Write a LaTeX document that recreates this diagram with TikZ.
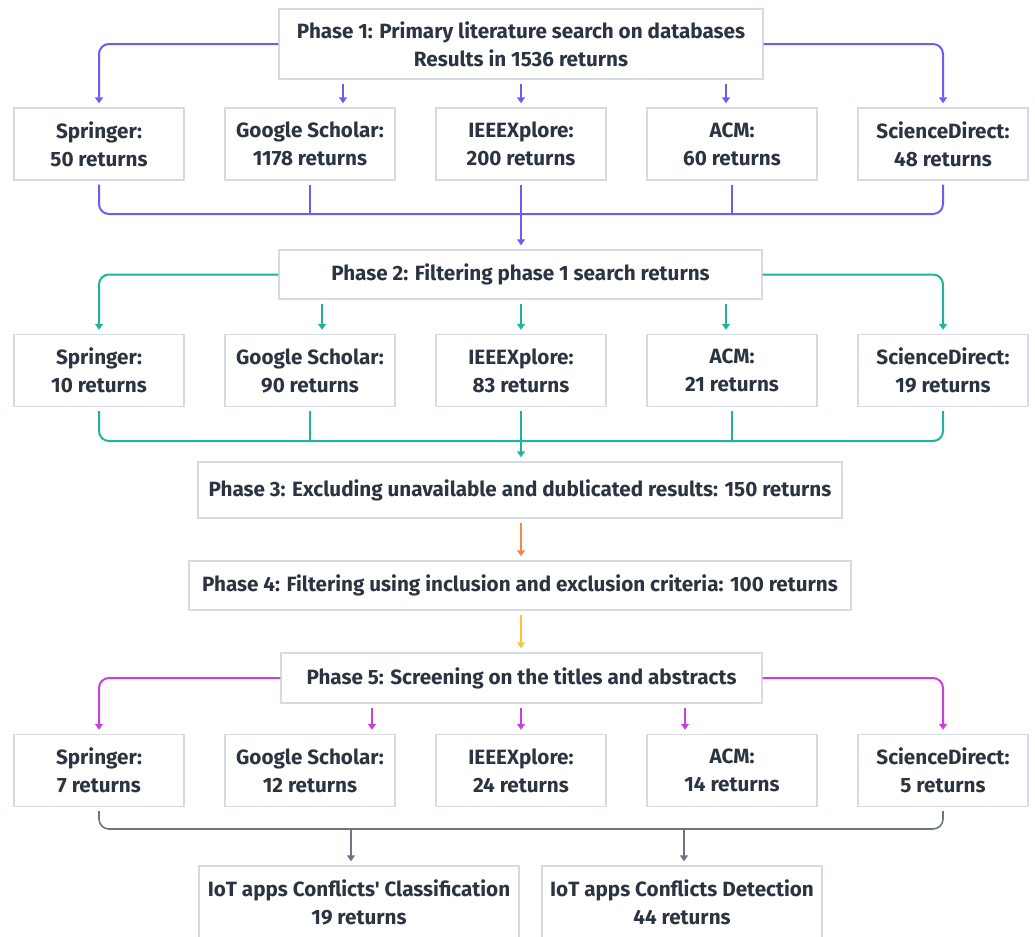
\documentclass[tikz,border=0pt]{standalone}
\usepackage{fontspec}
\setmainfont{Fira Sans}[Ligatures=TeXOff]
\usetikzlibrary{arrows.meta}
\definecolor{txt}{HTML}{2B3440}
\definecolor{bd}{HTML}{D3DCE4}
\definecolor{cA}{HTML}{6C5CF5}
\definecolor{cB}{HTML}{1FB29C}
\definecolor{cC}{HTML}{F08A4B}
\definecolor{cD}{HTML}{F6C33A}
\definecolor{cE}{HTML}{C93EDC}
\definecolor{cF}{HTML}{6B7583}
\begin{document}
\begin{tikzpicture}[x=0.75pt,y=-0.75pt,
  box/.style={draw=bd, line width=1.1pt, fill=white, align=center, text=txt,
    font=\fontsize{15.5}{21}\selectfont\bfseries, inner sep=0pt},
  dbbox/.style={box, minimum width=127.5pt, minimum height=54pt},
  tip/.style={-{Triangle[length=4.5pt,width=6pt]}},
  wire/.style={line width=1.5pt, rounded corners=7.5pt},
  conn/.style={wire, tip, shorten >=3pt},
  gap/.style={shorten <=3pt},
]
\clip (0,0) rectangle (1035,936);
\fill[white] (0,0) rectangle (1035,936);

% ---------- Phase 1 ----------
\node[box, minimum width=363pt, minimum height=52.5pt] (p1) at (521,44)
  {Phase 1: Primary literature search on databases\\Results in 1536 returns};
\node[dbbox] (s1) at (99,144)  {Springer:\\50 returns};
\node[dbbox] (g1) at (310,144) {Google Scholar:\\1178 returns};
\node[dbbox] (i1) at (521,144) {IEEEXplore:\\200 returns};
\node[dbbox] (a1) at (732,144) {ACM:\\60 returns};
\node[dbbox] (d1) at (943,144) {ScienceDirect:\\48 returns};

\coordinate (k1g) at (343,0);
\coordinate (k1a) at (726,0);
\draw[conn, color=cA] (p1.west) -| (s1.north);
\draw[conn, color=cA] (p1.east) -| (d1.north);
\draw[conn, gap, color=cA] (p1.south -| k1g) -- (g1.north -| k1g);
\draw[conn, gap, color=cA] (p1.south -| i1) -- (i1.north);
\draw[conn, gap, color=cA] (p1.south -| k1a) -- (a1.north -| k1a);

\coordinate (m1) at (521,214);
\draw[wire, gap, shorten >=3pt, color=cA] (s1.south) |- (m1) -| (d1.south);
\draw[wire, gap, color=cA] (g1.south) -- (g1.south |- m1);
\draw[wire, gap, color=cA] (a1.south) -- (a1.south |- m1);

% ---------- Phase 2 ----------
\node[box, minimum width=362pt, minimum height=36.75pt] (p2) at (520.5,274.5)
  {Phase 2: Filtering phase 1 search returns};
\draw[conn, gap, color=cA] (i1.south) -- (i1.south |- p2.north);

\node[dbbox] (s2) at (99,370.5)  {Springer:\\10 returns};
\node[dbbox] (g2) at (310,370.5) {Google Scholar:\\90 returns};
\node[dbbox] (i2) at (521,370.5) {IEEEXplore:\\83 returns};
\node[dbbox] (a2) at (732,370.5) {ACM:\\21 returns};
\node[dbbox] (d2) at (943,370.5) {ScienceDirect:\\19 returns};

\coordinate (k2g) at (322,0);
\coordinate (k2i) at (521,0);
\coordinate (k2a) at (726,0);
\draw[conn, color=cB] (p2.west) -| (s2.north);
\draw[conn, color=cB] (p2.east) -| (d2.north);
\draw[conn, gap, color=cB] (p2.south -| k2g) -- (g2.north -| k2g);
\draw[conn, gap, color=cB] (p2.south -| k2i) -- (i2.north -| k2i);
\draw[conn, gap, color=cB] (p2.south -| k2a) -- (a2.north -| k2a);

\coordinate (m2) at (521,441);
\draw[wire, gap, shorten >=3pt, color=cB] (s2.south) |- (m2) -| (d2.south);
\draw[wire, gap, color=cB] (g2.south) -- (g2.south |- m2);
\draw[wire, gap, color=cB] (a2.south) -- (a2.south |- m2);

% ---------- Phase 3 / 4 ----------
\node[box, minimum width=483pt, minimum height=42pt] (p3) at (520,490)
  {Phase 3: Excluding unavailable and dublicated results: 150 returns};
\draw[conn, gap, color=cB] (i2.south) -- (i2.south |- p3.north);

\node[box, minimum width=496.5pt, minimum height=36.75pt] (p4) at (520,585.5)
  {Phase 4: Filtering using inclusion and exclusion criteria: 100 returns};
\draw[conn, gap, color=cC] (i2.south |- p3.south) -- (i2.south |- p4.north);

% ---------- Phase 5 ----------
\node[box, minimum width=360.75pt, minimum height=37.5pt] (p5) at (521.5,678)
  {Phase 5: Screening on the titles and abstracts};
\draw[conn, gap, color=cD] (i2.south |- p4.south) -- (i2.south |- p5.north);

\node[dbbox] (s3) at (99,770.5)  {Springer:\\7 returns};
\node[dbbox] (g3) at (310,770.5) {Google Scholar:\\12 returns};
\node[dbbox] (i3) at (521,770.5) {IEEEXplore:\\24 returns};
\node[dbbox] (a3) at (732,770.5) {ACM:\\14 returns};
\node[dbbox] (d3) at (943,770.5) {ScienceDirect:\\5 returns};

\coordinate (k3g) at (372,0);
\coordinate (k3i) at (521,0);
\coordinate (k3a) at (685,0);
\draw[conn, color=cE] (p5.west) -| (s3.north);
\draw[conn, color=cE] (p5.east) -| (d3.north);
\draw[conn, gap, color=cE] (p5.south -| k3g) -- (g3.north -| k3g);
\draw[conn, gap, color=cE] (p5.south -| k3i) -- (i3.north -| k3i);
\draw[conn, gap, color=cE] (p5.south -| k3a) -- (a3.north -| k3a);

% ---------- Results ----------
\node[box, minimum width=240pt, minimum height=54pt] (c1) at (359,902)
  {IoT apps Conflicts' Classification\\19 returns};
\node[box, minimum width=210pt, minimum height=54pt] (c2) at (682,902)
  {IoT apps Conflicts Detection\\44 returns};

\coordinate (m3) at (521,829);
\coordinate (k4a) at (351,0);
\coordinate (k4b) at (684,0);
\draw[wire, gap, shorten >=3pt, color=cF, line width=1.2pt] (s3.south) |- (m3) -| (d3.south);
\draw[conn, color=cF, line width=1.2pt] (m3 -| k4a) -- (c1.north -| k4a);
\draw[conn, color=cF, line width=1.2pt] (m3 -| k4b) -- (c2.north -| k4b);
\end{tikzpicture}
\end{document}
